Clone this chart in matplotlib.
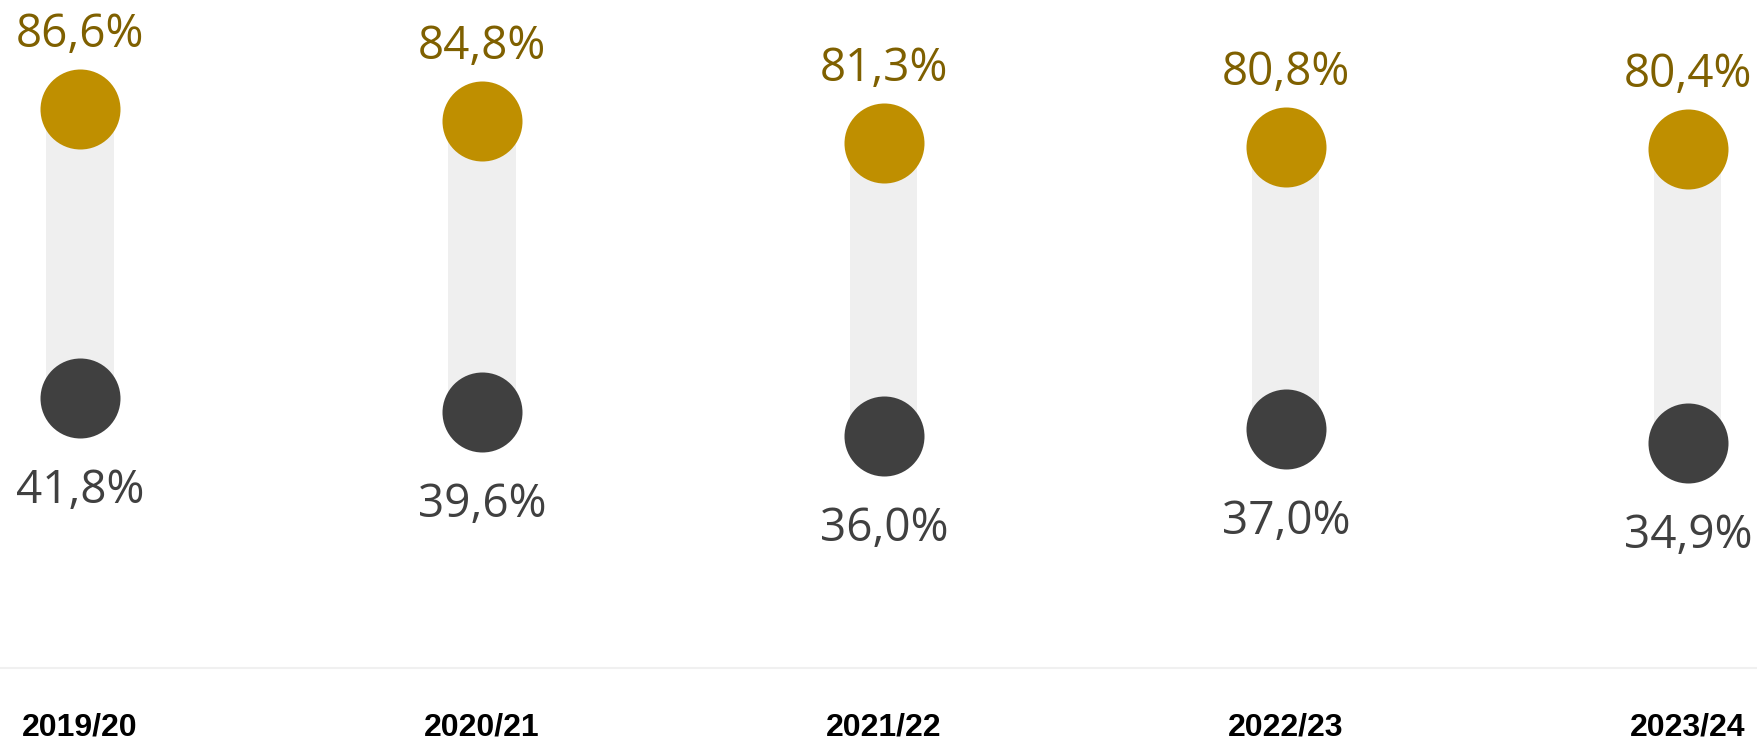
import matplotlib
matplotlib.use('Agg')
import matplotlib.pyplot as plt

# data
years = ['2019/20', '2020/21', '2021/22', '2022/23', '2023/24']
high_vals = [86.6, 84.8, 81.3, 80.8, 80.4]
low_vals = [41.8, 39.6, 36.0, 37.0, 34.9]

GOLD = '#BF8F00'
GOLD_TEXT = '#7F6000'
DARK = '#404040'
BAR = '#EFEFEF'


def fmt(v):
    return f'{v:.1f}'.replace('.', ',') + '%'


fig = plt.figure(figsize=(17.57, 7.39), dpi=100)
ax = fig.add_axes([0, 71 / 739, 1, 668 / 739])

x = list(range(len(years)))

# connecting range bars
ax.bar(x, [h - l for h, l in zip(high_vals, low_vals)], bottom=low_vals,
       width=0.167, color=BAR, zorder=1)

# dots
ax.scatter(x, high_vals, s=3318, color=GOLD, zorder=3, linewidths=0)
ax.scatter(x, low_vals, s=3318, color=DARK, zorder=3, linewidths=0)

# value labels
for i in x:
    ax.annotate(fmt(high_vals[i]), (i, high_vals[i]), xytext=(0, 62),
                textcoords='offset pixels', ha='center', va='baseline',
                fontsize=33, color=GOLD_TEXT, family='Open Sans')
    ax.annotate(fmt(low_vals[i]), (i, low_vals[i]), xytext=(0, -105),
                textcoords='offset pixels', ha='center', va='baseline',
                fontsize=33, color=DARK, family='Open Sans')

ax.set_xlim(-0.199, 4.172)
ax.set_ylim(0, 103.5)
ax.axis('off')

# baseline separator
fig.add_artist(plt.Line2D([0, 1], [71 / 739, 71 / 739], color='#F0F0F0', lw=1.5))

# year labels
for i, yr in enumerate(years):
    fig.text((80 + 402 * i) / 1757, 4 / 739, yr, ha='center', va='baseline',
             fontsize=23, fontweight='bold', family='Liberation Sans', color='black')

fig.savefig('out.png', dpi=100)
plt.close(fig)
